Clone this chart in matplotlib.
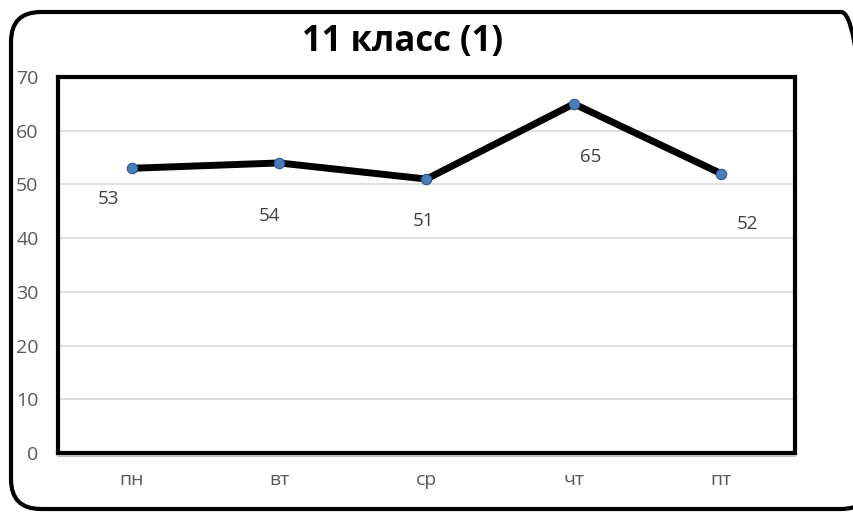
import matplotlib
matplotlib.use('Agg')
import matplotlib.pyplot as plt
from matplotlib.patches import FancyBboxPatch
from matplotlib.lines import Line2D

days = ["пн", "вт", "ср", "чт", "пт"]
scores = [53, 54, 51, 65, 52]
# label offsets in points (as placed by hand in the original)
label_dx = [-17, -7, -2, 12, 19]
label_dy = [-22, -38, -30, -38, -36]

plt.rcParams['font.family'] = ['Open Sans', 'DejaVu Sans']

W, H = 854, 512
fig = plt.figure(figsize=(W / 100, H / 100), dpi=100)
ax = fig.add_axes([58 / W, 1 - 453 / H, (795 - 58) / W, (453 - 77) / H])

# rounded chart border (right side runs off the image)
border = FancyBboxPatch((11 / W, 3 / H), 860 / W, 497 / H,
                        boxstyle="round,pad=0,rounding_size=0.035",
                        transform=fig.transFigure, fill=False,
                        lw=3, ec="black", mutation_aspect=W / H)
fig.patches.append(border)

x = range(len(days))
ax.plot(x, scores, color="black", lw=5, solid_capstyle="round", zorder=3)
ax.plot(x, scores, "o", ms=7.5, mfc="#4a7ebb", mec="#2f5597", mew=0.8, zorder=4)

for i, v in enumerate(scores):
    ax.annotate(str(v), (i, v), xytext=(label_dx[i], label_dy[i]),
                textcoords="offset points", ha="center", va="center",
                fontsize=13.5, color="#404040")

ax.set_xlim(-0.5, len(days) - 0.5)
ax.set_ylim(0, 70)
ax.set_yticks(range(0, 71, 10))
ax.set_xticks(list(x))
ax.set_xticklabels(days)
ax.grid(axis="y", color="#d9d9d9", lw=1.2)
ax.set_axisbelow(True)
ax.tick_params(length=0, labelsize=14, colors="#595959")
ax.tick_params(axis="y", pad=14)
ax.tick_params(axis="x", pad=13)
for s in ax.spines.values():
    s.set_linewidth(3)
    s.set_color("black")

# thin gray category axis line just under the frame
fig.lines.append(Line2D([58 / W, 795 / W], [1 - 455.5 / H, 1 - 455.5 / H],
                        transform=fig.transFigure, color="#bfbfbf", lw=1.5))

fig.text(403 / W, 1 - 42 / H, "11 класс (1)", ha="center", va="center",
         fontsize=25, fontweight="bold", color="black")

fig.savefig("out.png", dpi=100)
